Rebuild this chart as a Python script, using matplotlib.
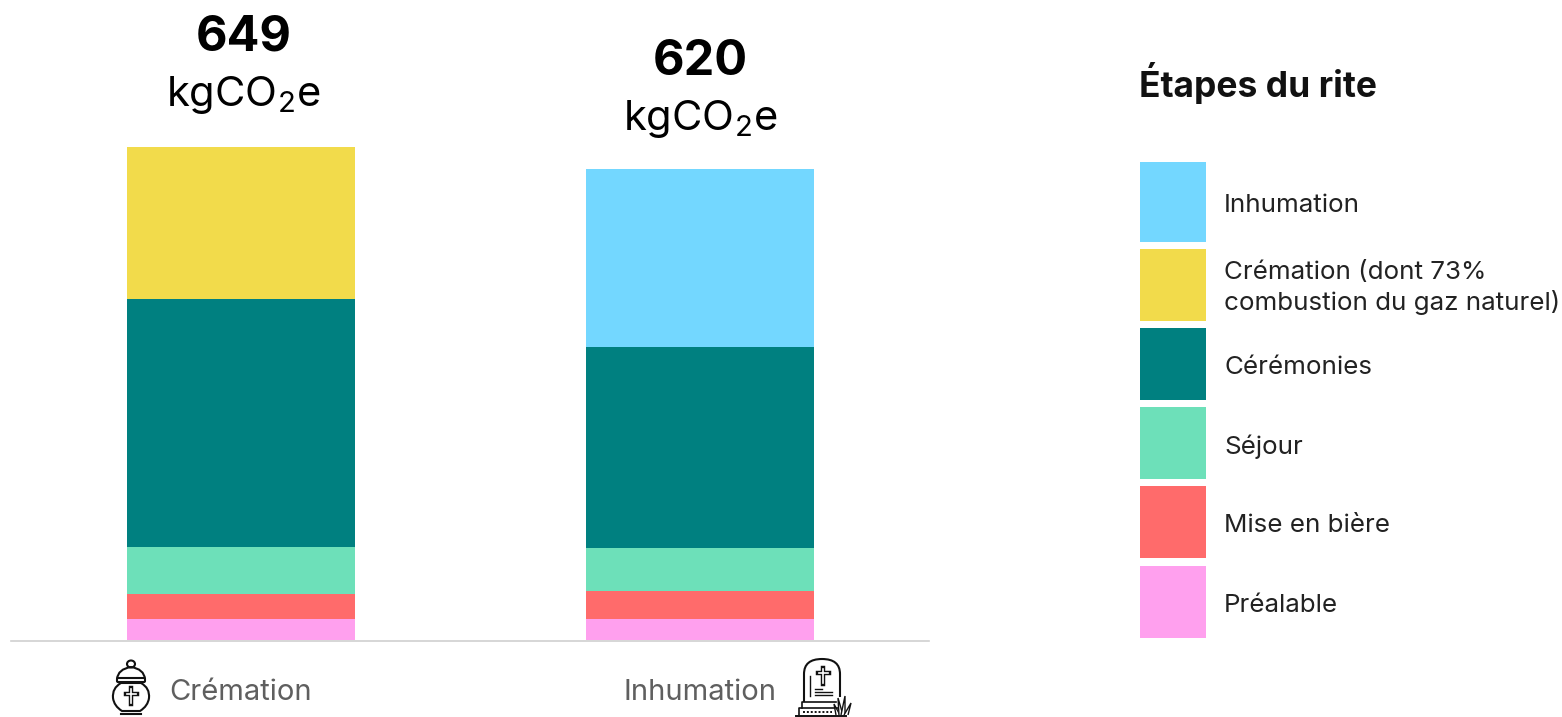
import numpy as np
import matplotlib.pyplot as plt
from matplotlib.patches import Rectangle, Ellipse, FancyBboxPatch, PathPatch
from matplotlib.path import Path

W, H = 1562, 717
plt.rcParams['font.family'] = ['Inter', 'DejaVu Sans']
plt.rcParams['mathtext.fontset'] = 'custom'
plt.rcParams['mathtext.rm'] = 'Inter'

rites = ['Crémation', 'Inhumation']
totals = [649, 620]
stages = ['Préalable', 'Mise en bière', 'Séjour', 'Cérémonies',
          'Crémation (dont 73%\ncombustion du gaz naturel)', 'Inhumation']
prealable = [27.6, 27.6]
mise_en_biere = [33, 37]
sejour = [62, 56.6]
ceremonies = [326, 265]
cremation = [200, 0]
inhumation = [0, 234]
colors = ['#FFA0EE', '#FF6B6B', '#6DE0B9', '#008080', '#F2DB4B', '#73D7FF']

fig = plt.figure(figsize=(W / 100, H / 100), dpi=100)

# main axes, placed on the pixel grid of the baseline
ax = fig.add_axes([11 / W, (H - 640) / H, 918 / W, 640 / H])
bottom = np.zeros(2)
for vals, c in zip([prealable, mise_en_biere, sejour, ceremonies, cremation, inhumation], colors):
    ax.bar([0, 1], vals, 0.497, bottom=bottom, color=c)
    bottom += np.array(vals)
ax.set_xlim(-0.501, 1.499)
ax.set_ylim(0, 640 / 0.7596)
for s in ['top', 'left', 'right']:
    ax.spines[s].set_visible(False)
ax.spines['bottom'].set_color('#d0d0d0')
ax.spines['bottom'].set_linewidth(1.2)
ax.spines['bottom'].set_position(('outward', 1))
ax.set_yticks([])
ax.set_xticks([])

num_off = [110, 107]
unit_off = [52, 50]
for i, t in enumerate(totals):
    ax.annotate(str(t), (i, t), xytext=(3 if i == 0 else 0, num_off[i]), textcoords='offset pixels', ha='center',
                va='center', fontsize=35, fontweight='bold', color='black')
    ax.annotate(r'$\mathrm{kgCO_2e}$', (i, t), xytext=(2 if i == 0 else 0, unit_off[i]), textcoords='offset pixels', ha='center',
                va='center', fontsize=30, color='black')

# overlay in pixel coordinates for legend and icons
ov = fig.add_axes([0, 0, 1, 1])
ov.set_xlim(0, W)
ov.set_ylim(H, 0)
ov.axis('off')

ov.text(241, 692, rites[0], ha='center', va='center', fontsize=21, color='#5f5f5f')
ov.text(700, 692, rites[1], ha='center', va='center', fontsize=21, color='#5f5f5f')

ov.text(1139, 83, 'Étapes du rite', ha='left', va='center', fontsize=25.5, fontweight='bold', color='#111111')

swatch_tops = [566, 486, 407, 328, 249, 162]
swatch_bottoms = [638, 558, 479, 400, 321, 242]
for lab, c, y0, y1 in zip(stages, colors, swatch_tops, swatch_bottoms):
    ov.add_patch(Rectangle((1140, y0), 66, y1 - y0, color=c, lw=0))
    off = 3 if '\n' in lab else 4
    ov.text(1224, (y0 + y1) / 2 + off, lab, ha='left', va='center', fontsize=18.7, color='#222222', linespacing=1.27)

# urn icon
lw = 1.5
ink = '#111111'
ov.add_patch(Ellipse((131, 664), 8, 7, fill=False, ec=ink, lw=lw))
ov.add_patch(PathPatch(Path([(117, 679), (118, 669), (131, 667), (144, 669), (145, 679)],
                            [Path.MOVETO, Path.CURVE3, Path.CURVE3, Path.CURVE3, Path.CURVE3]),
                       fill=False, ec=ink, lw=lw))
ov.add_patch(FancyBboxPatch((118, 679), 26, 2, boxstyle='round,pad=1', fill=False, ec=ink, lw=lw))
ov.add_patch(PathPatch(Path([(121, 683), (112, 688), (113, 698), (114, 706), (122, 711),
                             (140, 711), (148, 706), (149, 698), (150, 688), (141, 683), (121, 683)],
                            [Path.MOVETO, Path.CURVE3, Path.CURVE3, Path.CURVE3, Path.CURVE3,
                             Path.LINETO, Path.CURVE3, Path.CURVE3, Path.CURVE3, Path.CURVE3, Path.CLOSEPOLY]),
                       fill=False, ec=ink, lw=lw))
ov.plot([121, 141], [714, 714], color=ink, lw=lw)
ov.plot([131, 131], [688, 704], color=ink, lw=3.2)
ov.plot([125.5, 136.5], [694, 694], color=ink, lw=3.2)
ov.plot([131, 131], [689, 703], color='white', lw=1.2)
ov.plot([126.5, 135.5], [694, 694], color='white', lw=1.2)

# gravestone icon
ov.add_patch(PathPatch(Path([(804, 702), (804, 674), (804, 659), (822, 659), (840, 659), (840, 674), (840, 697)],
                            [Path.MOVETO, Path.LINETO, Path.CURVE3, Path.CURVE3, Path.CURVE3, Path.CURVE3, Path.LINETO]),
                       fill=False, ec=ink, lw=lw))
ov.plot([823, 823], [668, 684], color=ink, lw=3.2)
ov.plot([817.5, 828.5], [673, 673], color=ink, lw=3.2)
ov.plot([823, 823], [669, 683], color='white', lw=1.2)
ov.plot([818.5, 827.5], [673, 673], color='white', lw=1.2)
ov.plot([810, 810], [676, 696], color=ink, lw=1)
ov.plot([815, 822], [689, 689], color=ink, lw=1)
ov.plot([815, 832], [692, 692], color=ink, lw=1)
ov.plot([815, 832], [695, 695], color=ink, lw=1)
ov.plot([802, 802, 836], [708, 702, 702], color=ink, lw=1.2)
ov.plot([799, 799, 838], [716, 708, 708], color=ink, lw=1.2)
ov.plot([796, 846], [716, 716], color=ink, lw=1.4)
ov.plot([803, 832], [712, 712], color=ink, lw=1.4, ls=(0, (1, 1)))
# grass tuft
for base, tip in [(838, (834, 704)), (841, (838, 698)), (843, (845, 696)), (846, (851, 703))]:
    ov.add_patch(PathPatch(Path([(base - 2, 715), tip, (base + 2, 715)]),
                           fc='white', ec=ink, lw=1, zorder=5))

plt.savefig('out.png', dpi=100)
